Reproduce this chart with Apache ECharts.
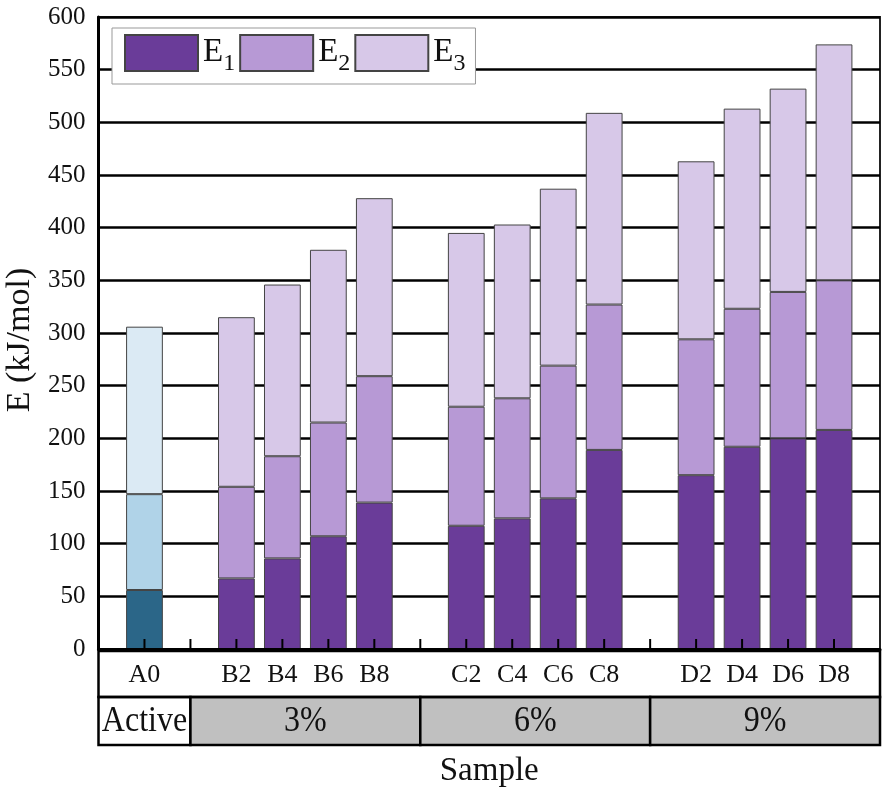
<!DOCTYPE html>
<html><head><meta charset="utf-8">
<script src="https://cdn.jsdelivr.net/npm/echarts@6/dist/echarts.min.js"></script>
<style>html,body{margin:0;padding:0;background:#fff}#c{width:885px;height:793px}</style>
</head><body><div id="c"></div>
<script>
// ---- data ----
const groupNames = ['Active', '3%', '6%', '9%'];
const groupSamples = [['A0'], ['B2', 'B4', 'B6', 'B8'], ['C2', 'C4', 'C6', 'C8'], ['D2', 'D4', 'D6', 'D8']];
const samples = ['A0', 'B2', 'B4', 'B6', 'B8', 'C2', 'C4', 'C6', 'C8', 'D2', 'D4', 'D6', 'D8'];
const E1 = [56, 67, 86, 107, 139, 117, 124, 143, 189, 165, 192, 200, 208];
const E2 = [91, 87, 97, 108, 120, 113, 114, 126, 138, 129, 131, 139, 142];
const E3 = [159, 161, 163, 164, 169, 165, 165, 168, 182, 169, 190, 193, 224];
const seriesNames = ['E1', 'E2', 'E3'];
const yTicks = [0, 50, 100, 150, 200, 250, 300, 350, 400, 450, 500, 550, 600];

// ---- styles ----
const FONT = 'Liberation Serif';
const purple = ['#6a3c99', '#b799d5', '#d7c8e8'];
const blue = ['#2b6688', '#b0d3e8', '#dbeaf4'];

// build category axis with spacer slots between groups
const cats = [];
let sp = 0;
const spacer = () => ' '.repeat(++sp);
const groupBounds = []; // spacer indices
groupSamples.forEach((g, gi) => {
  if (gi > 0) groupBounds.push(cats.length);
  cats.push(spacer());
  g.forEach(s => cats.push(s));
});
cats.push(spacer());

const allVals = [E1, E2, E3];
function seriesData(k) {
  return cats.map(c => {
    const i = samples.indexOf(c);
    if (i < 0) return '-';
    if (c === 'A0') return { value: allVals[k][i], itemStyle: { color: blue[k] } };
    return allVals[k][i];
  });
}

const chart = echarts.init(document.getElementById('c'));
const option = {
  animation: false,
  backgroundColor: '#fff',
  textStyle: { fontFamily: FONT },
  grid: { left: 98.5, right: 5, top: 17, bottom: 144, show: true, borderColor: '#222', borderWidth: 2, backgroundColor: 'transparent', containLabel: false, outerBoundsMode: 'none' },
  legend: {
    data: seriesNames,
    left: 112, top: 28,
    orient: 'horizontal',
    itemWidth: 73, itemHeight: 36, itemGap: 4,
    padding: [6, 10, 8, 12],
    backgroundColor: '#fff', borderColor: '#999', borderWidth: 1,
    icon: 'rect',
    formatter: n => '{e|E}{s|' + n.slice(1) + '}',
    textStyle: {
      color: '#111', fontFamily: FONT,
      rich: {
        e: { fontSize: 33, lineHeight: 34, fontFamily: FONT, color: '#111', verticalAlign: 'top' },
        s: { fontSize: 24, lineHeight: 24, fontFamily: FONT, color: '#111', padding: [16, 0, 0, 0], verticalAlign: 'top' }
      }
    }
  },
  xAxis: {
    type: 'category',
    data: cats,
    boundaryGap: false,
    z: 10,
    name: 'Sample', nameLocation: 'middle', nameGap: 106,
    nameTextStyle: { fontSize: 33, color: '#111', fontFamily: FONT },
    axisLine: { show: true, lineStyle: { color: '#000', width: 3 } },
    axisTick: { show: false },
    axisLabel: { show: true, interval: 0, fontSize: 26, color: '#111', margin: 13, fontFamily: FONT },
    splitLine: { show: false }
  },
  yAxis: {
    type: 'value', min: yTicks[0], max: yTicks[yTicks.length - 1], interval: 50,
    name: 'E (kJ/mol)', nameLocation: 'middle', nameGap: 58, nameRotate: 90,
    nameTextStyle: { fontSize: 34, color: '#111', fontFamily: FONT, padding: [0, 14, 0, 0] },
    axisLine: { show: true, lineStyle: { color: '#000', width: 3 } },
    axisTick: { show: false },
    axisLabel: { fontSize: 25, color: '#111', margin: 13, fontFamily: FONT },
    splitLine: { show: true, lineStyle: { color: '#000', width: 2.5 } }
  },
  series: seriesNames.map((n, k) => ({
    name: n, type: 'bar', stack: 'E', barWidth: '80%',
    data: seriesData(k),
    itemStyle: { color: purple[k], borderColor: '#444', borderWidth: 1 },
    z: 3
  }))
};
chart.setOption(option);

// decorative label boxes and category ticks, positioned from the axis scale
const px = i => chart.convertToPixel({ xAxisIndex: 0 }, i);
const y0 = chart.convertToPixel({ yAxisIndex: 0 }, 0);
const xL = px(0), xR = px(cats.length - 1);
const r1t = y0 + 2, r1b = y0 + 48, r2b = y0 + 96;
const edges = [xL].concat(groupBounds.map(px), [xR]);
const graphics = [
  { type: 'rect', shape: { x: xL, y: r1t, width: xR - xL, height: r1b - r1t }, style: { fill: 'none', stroke: '#000', lineWidth: 2.5 }, z: 10 }
];
cats.forEach((c, i) => {
  if (i === 0 || i === cats.length - 1) return;
  const x = px(i);
  graphics.push({ type: 'line', shape: { x1: x, y1: y0, x2: x, y2: y0 - 10 }, style: { stroke: '#000', lineWidth: 2 }, z: 20 });
});
groupNames.forEach((g, gi) => {
  const a = edges[gi], b = edges[gi + 1];
  graphics.push({ type: 'rect', shape: { x: a, y: r1b, width: b - a, height: r2b - r1b },
    style: { fill: gi === 0 ? '#fff' : '#c0c0c0', stroke: '#000', lineWidth: 2.5 }, z: 9 });
  graphics.push({ type: 'text', x: (a + b) / 2, y: (r1b + r2b) / 2 + 1, scaleY: 1.12,
    style: { text: g, fontSize: 32, fontFamily: FONT, fill: '#111', align: 'center', verticalAlign: 'middle' }, z: 11 });
});
chart.setOption({ graphic: graphics });
</script></body></html>
